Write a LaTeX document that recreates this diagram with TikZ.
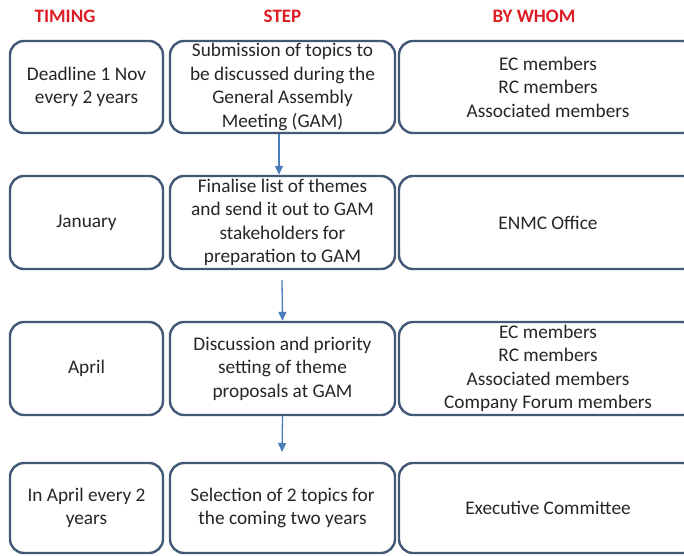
\documentclass[tikz,border=0pt]{standalone}
\usepackage{fontspec}
\setmainfont{Carlito}
\usetikzlibrary{arrows.meta}
\definecolor{boxline}{RGB}{66,88,118}
\definecolor{arrowblue}{RGB}{74,126,187}
\definecolor{txt}{RGB}{38,38,38}
\definecolor{hdrred}{RGB}{222,28,36}
\tikzset{
  boxnode/.style={draw=boxline, line width=2.4pt, rounded corners=14pt, rectangle,
    inner sep=0pt, align=center, text=txt,
    font=\fontsize{19.3}{23.4}\selectfont},
  hdr/.style={text=hdrred, font=\bfseries\fontsize{19}{23}\selectfont, inner sep=0pt},
  arr/.style={draw=arrowblue, line width=1.3pt, -{Triangle[length=9pt,width=8pt]}},
  colA/.style={minimum width=153pt},
  colB/.style={minimum width=225pt},
  colC/.style={minimum width=298pt},
}
\begin{document}
\begin{tikzpicture}[x=1pt,y=-1pt]
\useasboundingbox (0,0) rectangle (684,555);
\clip (0,0) rectangle (684,555);
\fill[white] (0,0) rectangle (684,555);
% headers
\node[hdr] (h1) at (65,16) {TIMING};
\node[hdr] (h2) at (282.5,16) {STEP};
\node[hdr] (h3) at (534,16) {BY WHOM};
% row 1
\node[boxnode,colA,minimum height=92pt] (b11) at (86.5,87) {Deadline 1 Nov\\every 2 years};
\node[boxnode,colB,minimum height=92pt] (b12) at (282.5,87) {Submission of topics to\\be discussed during the\\General Assembly\\Meeting (GAM)};
\node[boxnode,colC,minimum height=92pt] (b13) at (548,87) {EC members\\RC members\\Associated members};
% row 2
\node[boxnode,colA,minimum height=93pt] (b21) at (86.5,222.5) {January};
\node[boxnode,colB,minimum height=93pt] (b22) at (282.5,222.5) {Finalise list of themes\\and send it out to GAM\\stakeholders for\\preparation to GAM};
\node[boxnode,colC,minimum height=93pt] (b23) at (548,222.5) {ENMC Office};
% row 3
\node[boxnode,colA,minimum height=93pt] (b31) at (86.5,368.5) {April};
\node[boxnode,colB,minimum height=93pt] (b32) at (282.5,368.5) {Discussion and priority\\setting of theme\\proposals at GAM};
\node[boxnode,colC,minimum height=93pt] (b33) at (548,368.5) {EC members\\RC members\\Associated members\\Company Forum members};
% row 4
\node[boxnode,colA,minimum height=90pt] (b41) at (86.5,508) {In April every 2\\years};
\node[boxnode,colB,minimum height=90pt] (b42) at (282.5,508) {Selection of 2 topics for\\the coming two years};
\node[boxnode,colC,minimum height=90pt] (b43) at (548,508) {Executive Committee};
% arrows
\coordinate (s2) at (282,280);
\coordinate (e3) at (282,452);
\draw[arr] (b12.south -| 279,0) -- (b22.north -| 279,0);
\draw[arr] (s2) -- (b32.north);
\draw[arr] (b32.south) -- (e3);
\end{tikzpicture}
\end{document}
